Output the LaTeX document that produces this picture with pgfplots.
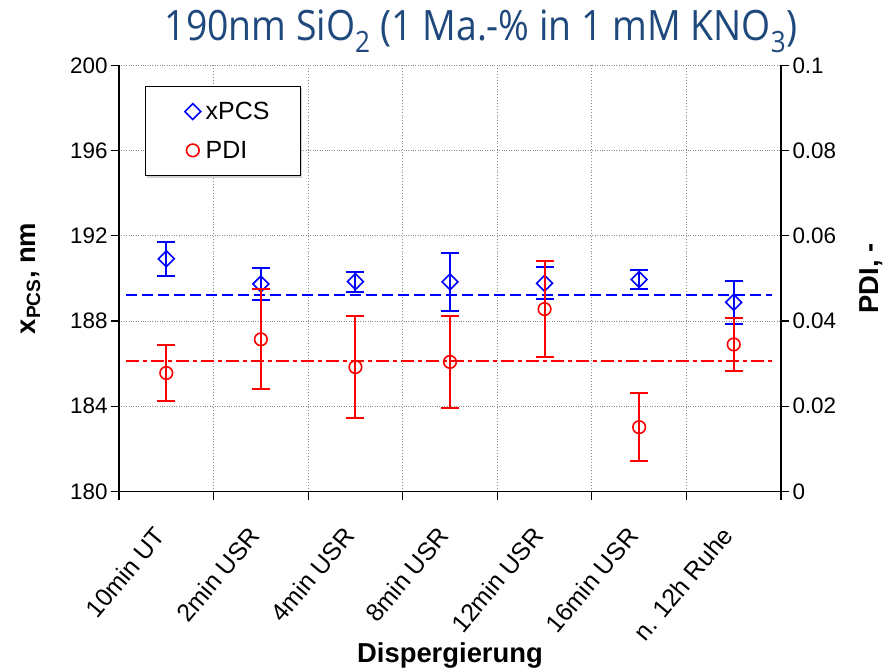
\documentclass[border=0pt]{standalone}
\usepackage{pgfplots}
\pgfplotsset{compat=1.18}
\usetikzlibrary{shadows}
\usepackage{fontspec}
\setmainfont{Liberation Sans}
\newfontfamily\titlefont{Open Sans}
\definecolor{titleblue}{HTML}{1F497D}
\begin{document}
\begin{tikzpicture}
\path[use as bounding box] (-119bp,-176.5bp) rectangle (776bp,491.5bp);
\begin{axis}[
 at={(0,0)}, anchor=south west,
 scale only axis, width=662bp, height=426.2bp,
 xmin=-0.5, xmax=6.5, ymin=180, ymax=200,
 axis y line*=left, axis x line*=bottom,
 axis line style={line width=1.3bp, black},
 xtick={0,1,2,3,4,5,6},
 xticklabels={10min UT, 2min USR, 4min USR, 8min USR, 12min USR, 16min USR, n. 12h Ruhe},
 minor xtick={-0.5,0.5,1.5,2.5,3.5,4.5,5.5,6.5},
 major x tick style={draw=none},
 tick align=outside,
 major tick length=8bp, minor tick length=8bp,
 tick style={line width=1.2bp, black},
 ytick={180,184,188,192,196,200},
 yticklabels={180,184,188,192,196,200},
 xmajorgrids=false, xminorgrids=true, ymajorgrids=true,
 grid style={dotted, line width=0.9bp, black!45},
 minor grid style={dotted, line width=0.9bp, black!45},
 tick label style={font=\fontsize{22.5}{26}\selectfont},
 xticklabel style={rotate=50, anchor=north east, inner sep=2bp, xshift=-26bp, yshift=-4bp, font=\fontsize{25}{29}\selectfont},
 xlabel={Dispergierung},
 xlabel style={at={(axis description cs:0.5,-0.384)}, anchor=center, font=\fontsize{27.5}{32}\selectfont\bfseries},
 ylabel={x\textsubscript{PCS}, nm},
 ylabel style={at={(axis description cs:-0.134,0.5)}, anchor=center, font=\fontsize{27.5}{32}\selectfont\bfseries},
 title={\scalebox{1}[1.12]{\titlefont 190nm SiO\textsubscript{2} (1 Ma.-\% in 1 mM KNO\textsubscript{3})}},
 title style={at={(axis description cs:0.547,1.043)}, anchor=base, color=titleblue, font=\fontsize{37.5}{44}\selectfont},
]
\addplot[blue, line width=1.6bp, dash pattern=on 11bp off 5bp, forget plot] coordinates {(-0.43,189.21) (6.41,189.21)};
\addplot[only marks, blue, mark=square, mark size=5.6bp, mark options={rotate=45, line width=1.6bp},
 error bars/.cd, y dir=both, y explicit,
 error bar style={line width=2bp, blue},
 error mark=-,
 error mark options={rotate=90, line width=2bp, mark size=9bp, blue}]
 coordinates {
 (0,190.92) +- (0,0.79)
 (1,189.74) +- (0,0.75)
 (2,189.85) +- (0,0.47)
 (3,189.84) +- (0,1.35)
 (4,189.77) +- (0,0.75)
 (5,189.95) +- (0,0.44)
 (6,188.88) +- (0,1.00)
 };
\end{axis}
\begin{axis}[
 at={(0,0)}, anchor=south west,
 scale only axis, width=662bp, height=426.2bp,
 xmin=-0.5, xmax=6.5, ymin=0, ymax=0.1,
 axis y line*=right, axis x line=none,
 axis line style={line width=1.3bp, black},
 tick align=outside,
 major tick length=8bp,
 tick style={line width=1.2bp, black},
 ytick={0,0.02,0.04,0.06,0.08,0.1},
 yticklabels={0,0.02,0.04,0.06,0.08,0.1},
 tick label style={font=\fontsize{22.5}{26}\selectfont},
 ylabel={PDI, -},
 ylabel style={at={(axis description cs:1.136,0.5)}, anchor=center, font=\fontsize{27.5}{32}\selectfont\bfseries},
 legend style={at={(axis description cs:0.0393,0.952)}, anchor=north west, draw=black, line width=0.8bp,
   fill=white, drop shadow={shadow xshift=2bp, shadow yshift=-2bp, fill=black!35},
   font=\fontsize{25}{29}\selectfont, inner xsep=31bp, inner ysep=16bp, row sep=20bp,
   nodes={inner sep=0bp}, column sep=5bp},
 legend cell align=left,
 legend image code/.code={\path (-16bp,0bp); \draw[#1] plot coordinates {(0bp,0bp)};},
]
\addlegendimage{only marks, blue, mark=square, mark size=5.6bp, mark options={rotate=45, line width=1.6bp}}
\addlegendentry{xPCS}
\addplot[red, line width=2bp, dash pattern=on 13bp off 4bp on 4bp off 4bp, forget plot] coordinates {(-0.43,0.0307) (6.41,0.0307)};
\addplot[only marks, red, mark=o, mark size=6.3bp, mark options={line width=1.6bp},
 error bars/.cd, y dir=both, y explicit,
 error bar style={line width=2bp, red},
 error mark=-,
 error mark options={rotate=90, line width=2bp, mark size=9bp, red}]
 coordinates {
 (0,0.0278) +- (0,0.0066)
 (1,0.0357) +- (0,0.0117)
 (2,0.0292) +- (0,0.0119)
 (3,0.0304) +- (0,0.0108)
 (4,0.0428) +- (0,0.0112)
 (5,0.0151) +- (0,0.0079)
 (6,0.0345) +- (0,0.0062)
 };
\addlegendentry{PDI}
\end{axis}
\end{tikzpicture}
\end{document}
